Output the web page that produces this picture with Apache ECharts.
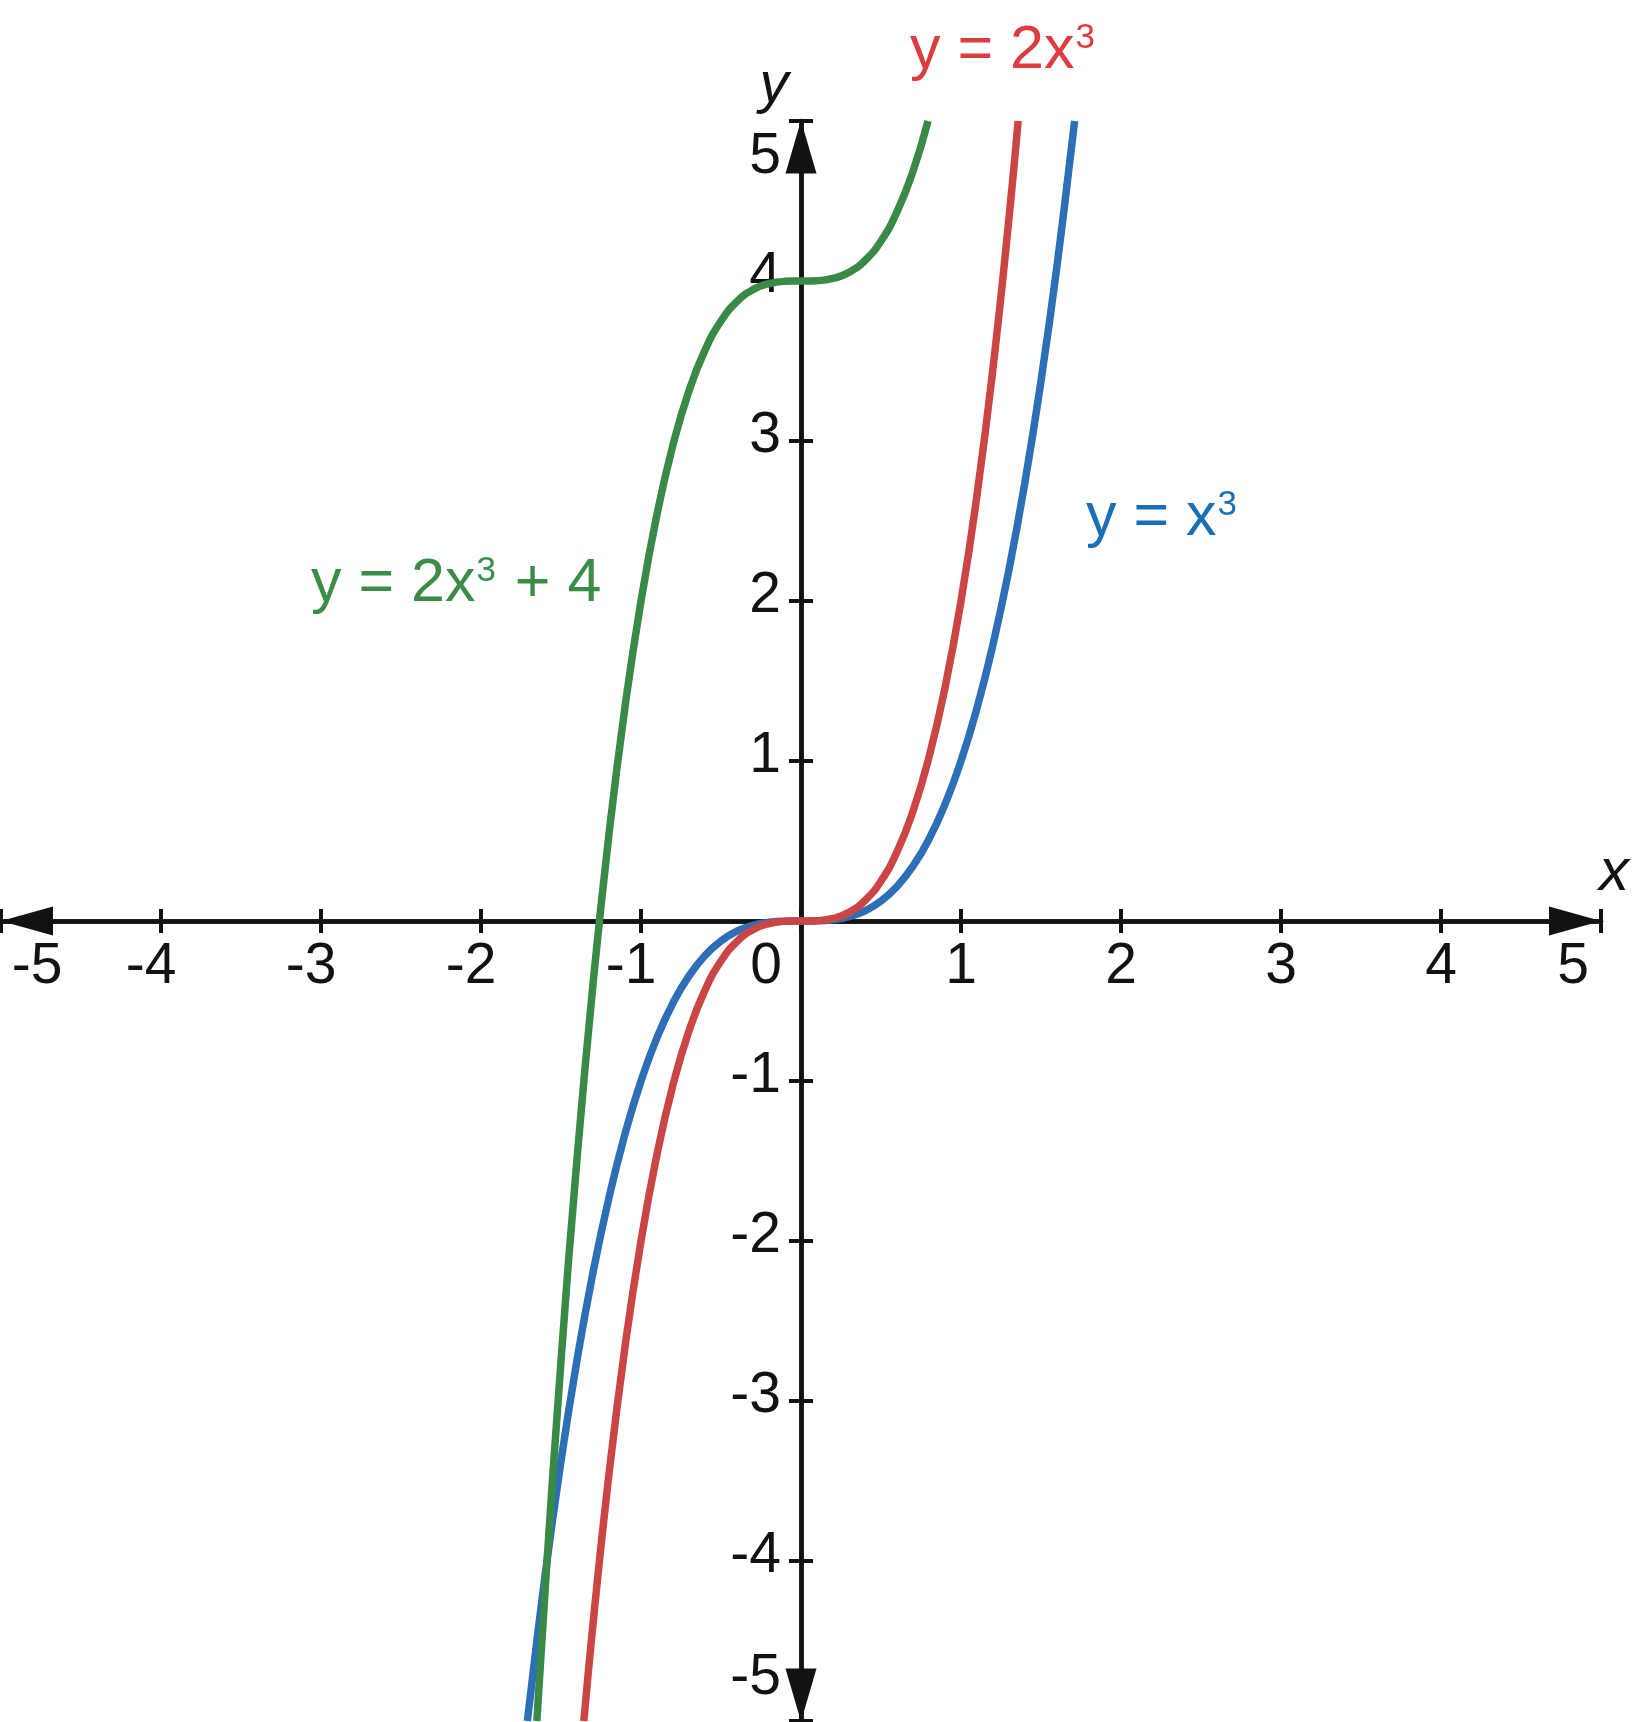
<!DOCTYPE html>
<html>
<head>
<meta charset="utf-8">
<script src="https://cdn.jsdelivr.net/npm/echarts@6/dist/echarts.min.js"></script>
<style>
html,body{margin:0;padding:0;background:#fff;}
#chart{width:1632px;height:1722px;}
</style>
</head>
<body>
<div id="chart"></div>
<script>
// ---- data ----
const xTickValues = [-5,-4,-3,-2,-1,0,1,2,3,4,5];
const xTickLabels = ['-5','-4','-3','-2','-1','0','1','2','3','4','5'];
const yTickValues = [-5,-4,-3,-2,-1,0,1,2,3,4,5];
const yTickLabels = ['-5','-4','-3','-2','-1','','1','2','3','4','5'];

// y = x^3
const cubeX = [-1.71,-1.7,-1.6,-1.5,-1.4,-1.3,-1.2,-1.1,-1.0,-0.9,-0.8,-0.7,-0.6,-0.5,-0.4,-0.3,-0.2,-0.1,0,0.1,0.2,0.3,0.4,0.5,0.6,0.7,0.8,0.9,1.0,1.1,1.2,1.3,1.4,1.5,1.6,1.7,1.71];
const cubeY = [-5.0,-4.913,-4.096,-3.375,-2.744,-2.197,-1.728,-1.331,-1,-0.729,-0.512,-0.343,-0.216,-0.125,-0.064,-0.027,-0.008,-0.001,0,0.001,0.008,0.027,0.064,0.125,0.216,0.343,0.512,0.729,1,1.331,1.728,2.197,2.744,3.375,4.096,4.913,5.0];

// y = 2x^3
const doubleX = [-1.357,-1.3,-1.2,-1.1,-1.0,-0.9,-0.8,-0.7,-0.6,-0.5,-0.4,-0.3,-0.2,-0.1,0,0.1,0.2,0.3,0.4,0.5,0.6,0.7,0.8,0.9,1.0,1.1,1.2,1.3,1.357];
const doubleY = [-5.0,-4.394,-3.456,-2.662,-2,-1.458,-1.024,-0.686,-0.432,-0.25,-0.128,-0.054,-0.016,-0.002,0,0.002,0.016,0.054,0.128,0.25,0.432,0.686,1.024,1.458,2,2.662,3.456,4.394,5.0];

// y = 2x^3 + 4
const shiftX = [-1.651,-1.6,-1.5,-1.4,-1.3,-1.2,-1.1,-1.0,-0.9,-0.8,-0.7,-0.6,-0.5,-0.4,-0.3,-0.2,-0.1,0,0.1,0.2,0.3,0.4,0.5,0.6,0.7,0.794];
const shiftY = [-5.0,-4.192,-2.75,-1.488,-0.394,0.544,1.338,2,2.542,2.976,3.314,3.568,3.75,3.872,3.946,3.984,3.998,4,4.002,4.016,4.054,4.128,4.25,4.432,4.686,5.0];

function zip(xs, ys){ return xs.map(function(x,i){ return [x, ys[i]]; }); }

const FONT = '"Liberation Sans", Arial, Helvetica, sans-serif';
const AXIS_COLOR = '#121212';
const base = {fontSize:57, fontFamily:FONT, color:AXIS_COLOR};
function rs(pad){ return Object.assign({}, base, {padding:pad}); }

const GRID = {left:1, right:31, top:121, bottom:1};
const W = 1632, H = 1722;
const gridW = W - GRID.left - GRID.right;
const gridH = H - GRID.top - GRID.bottom;
// axes pass through the origin (centre of the symmetric -5..5 ranges)
const xAxisShift = -gridH * (0 - (-5)) / 10;
const yAxisShift = -gridW * (0 - (-5)) / 10;

const chart = echarts.init(document.getElementById('chart'), null, {renderer:'canvas'});

function xFmt(v){
  const i = xTickValues.indexOf(Math.round(v));
  const t = i >= 0 ? xTickLabels[i] : '';
  if (v === -5) return '{a|' + t + '}';
  if (v === 5) return '{b|' + t + '}';
  if (v === 0) return '{z|' + t + '}';
  if (v < 0) return '{n|' + t + '}';
  return '{p|' + t + '}';
}
function yFmt(v){
  const i = yTickValues.indexOf(Math.round(v));
  const t = i >= 0 ? yTickLabels[i] : '';
  if (t === '') return '';
  if (v === 5) return '{a|' + t + '}';
  if (v === -5) return '{b|' + t + '}';
  return '{p|' + t + '}';
}

const lineStyleAxis = {color:AXIS_COLOR, width:4.5};
const tickStyle = {color:AXIS_COLOR, width:4};

const option = {
  animation:false,
  backgroundColor:'#ffffff',
  grid:{left:GRID.left, right:GRID.right, top:GRID.top, bottom:GRID.bottom, containLabel:false, outerBoundsMode:'none'},
  xAxis:[
    {
      type:'value', min:-5, max:5, interval:1, position:'bottom', offset:xAxisShift,
      axisLine:{show:true, onZero:false, lineStyle:lineStyleAxis,
        symbol:['triangle','triangle'], symbolSize:[29,52], symbolOffset:[26,-26]},
      axisTick:{show:true, inside:false, length:12, lineStyle:tickStyle},
      splitLine:{show:false},
      axisLabel:{show:true, margin:18, showMinLabel:true, showMaxLabel:true, hideOverlap:false,
        formatter:xFmt, fontSize:57, fontFamily:FONT, color:AXIS_COLOR,
        rich:{a:rs([0,0,0,72]), b:rs([0,56,0,0]), z:rs([0,70,0,0]), n:rs([0,20,0,0]), p:rs([0,0,0,0])}}
    },
    {
      type:'value', min:-5, max:5, interval:1, position:'top', offset:xAxisShift,
      axisLine:{show:true, onZero:false, lineStyle:lineStyleAxis},
      axisTick:{show:true, inside:false, length:12, lineStyle:tickStyle},
      splitLine:{show:false}, axisLabel:{show:false}
    }
  ],
  yAxis:[
    {
      type:'value', min:-5, max:5, interval:1, position:'left', offset:yAxisShift,
      axisLine:{show:true, onZero:false, lineStyle:lineStyleAxis,
        symbol:['triangle','triangle'], symbolSize:[31,53], symbolOffset:[26,-26]},
      axisTick:{show:true, inside:false, length:12, lineStyle:tickStyle},
      splitLine:{show:false},
      axisLabel:{show:true, margin:20, showMinLabel:true, showMaxLabel:true, hideOverlap:false,
        formatter:yFmt, fontSize:57, fontFamily:FONT, color:AXIS_COLOR,
        rich:{a:rs([72,0,0,0]), b:rs([0,0,86,0]), p:rs([0,0,10,0])}}
    },
    {
      type:'value', min:-5, max:5, interval:1, position:'right', offset:yAxisShift,
      axisLine:{show:true, onZero:false, lineStyle:lineStyleAxis},
      axisTick:{show:true, inside:false, length:12, lineStyle:tickStyle},
      splitLine:{show:false}, axisLabel:{show:false}
    }
  ],
  series:[
    {name:'y = x³', type:'line', data:zip(cubeX, cubeY), showSymbol:false, smooth:true,
      lineStyle:{color:'#2d6fb6', width:7.5}, itemStyle:{color:'#2d6fb6'}, z:3},
    {name:'y = 2x³', type:'line', data:zip(doubleX, doubleY), showSymbol:false, smooth:true,
      lineStyle:{color:'#cc4545', width:7.5}, itemStyle:{color:'#cc4545'}, z:4},
    {name:'y = 2x³ + 4', type:'line', data:zip(shiftX, shiftY), showSymbol:false, smooth:true,
      lineStyle:{color:'#3a8a47', width:7.5}, itemStyle:{color:'#3a8a47'}, z:5}
  ],
  graphic:[
    {type:'text', x:774, y:86, z:10, style:{text:'y', font:'italic 58px ' + FONT, fill:AXIS_COLOR, align:'center', verticalAlign:'middle'}},
    {type:'text', x:1614, y:873, z:10, style:{text:'x', font:'italic 60px ' + FONT, fill:AXIS_COLOR, align:'center', verticalAlign:'middle'}},
    {type:'text', x:910, y:51, z:10, style:{text:'{m|y = 2x}{s|3}', align:'left', verticalAlign:'middle',
      rich:{m:{fontSize:61, fontFamily:FONT, fill:'#dd3c3f'}, s:{fontSize:35, fontFamily:FONT, fill:'#dd3c3f', verticalAlign:'top', padding:[0,0,0,1]}}}},
    {type:'text', x:311, y:584, z:10, style:{text:'{m|y = 2x}{s|3}{m| + 4}', align:'left', verticalAlign:'middle',
      rich:{m:{fontSize:61, fontFamily:FONT, fill:'#3a8c47'}, s:{fontSize:35, fontFamily:FONT, fill:'#3a8c47', verticalAlign:'top', padding:[0,2,0,1]}}}},
    {type:'text', x:1086, y:518, z:10, style:{text:'{m|y = x}{s|3}', align:'left', verticalAlign:'middle',
      rich:{m:{fontSize:61, fontFamily:FONT, fill:'#1a70b6'}, s:{fontSize:35, fontFamily:FONT, fill:'#1a70b6', verticalAlign:'top', padding:[0,0,0,1]}}}}
  ]
};
chart.setOption(option);
</script>
</body>
</html>
